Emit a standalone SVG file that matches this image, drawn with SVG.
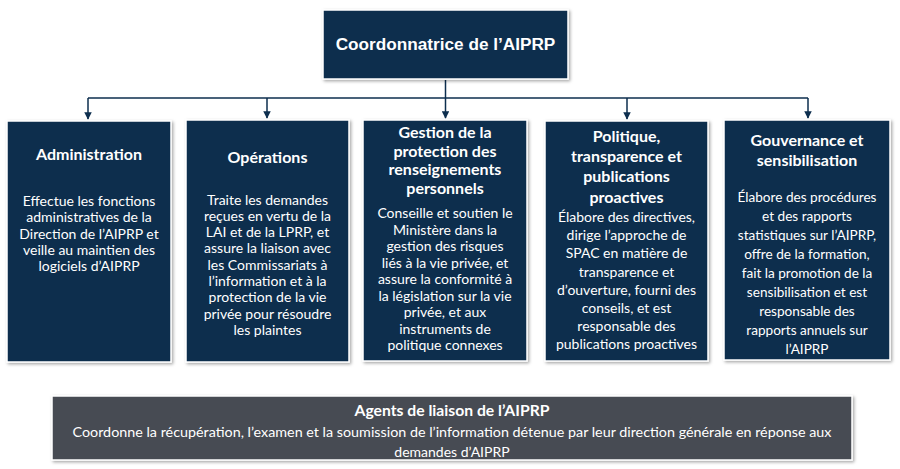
<svg xmlns="http://www.w3.org/2000/svg" width="900" height="469" viewBox="0 0 900 469">
<style>
.box{fill:#0d2e4e;stroke:#ffffff;stroke-width:1.5;filter:url(#sh)}
.gbox{fill:#474b53;stroke:#ffffff;stroke-width:1.5;filter:url(#sh)}
.t{font-family:Lato,"Open Sans",sans-serif;font-weight:bold;fill:#ffffff;text-anchor:middle;font-size:16px}
.b{font-family:Lato,"Open Sans",sans-serif;fill:#ffffff;text-anchor:middle;font-size:14px}
.b5{font-family:Lato,"Open Sans",sans-serif;fill:#ffffff;text-anchor:middle;font-size:13.6px}
.top{font-family:"Liberation Sans",Arial,sans-serif;font-weight:bold;fill:#ffffff;text-anchor:middle;font-size:17.2px}
.c{fill:none;stroke:#0d2e4e;stroke-width:1.5}
</style>
<defs>
<filter id="sh" x="-10%" y="-10%" width="120%" height="120%">
<feDropShadow dx="1.5" dy="1.5" stdDeviation="1.5" flood-color="#000" flood-opacity="0.35"/>
</filter>
<marker id="ar" viewBox="0 0 10 10" refX="9" refY="5" markerWidth="5" markerHeight="5" orient="auto">
<path d="M0,0 L10,5 L0,10 z" fill="#0d2e4e"/>
</marker>
</defs>
<rect width="900" height="469" fill="#ffffff"/>
<g id="connectors">
<path class="c" d="M445.5,80 V98"/>
<path class="c" d="M88,98 H808"/>
<path class="c" d="M88,98 V119" marker-end="url(#ar)"/>
<path class="c" d="M267,98 V118" marker-end="url(#ar)"/>
<path class="c" d="M445.5,98 V118" marker-end="url(#ar)"/>
<path class="c" d="M627,98 V119" marker-end="url(#ar)"/>
<path class="c" d="M808,98 V118" marker-end="url(#ar)"/>
</g>
<g id="coordonnatrice">
<rect class="box" x="323" y="10" width="245" height="69"/>
<text class="top" x="445.5" y="50">Coordonnatrice de l’AIPRP</text>
</g>
<g id="administration">
<rect class="box" x="7" y="121" width="164" height="241"/>
<text class="t" x="89" y="160">Administration</text>
<text class="b" x="89" y="206">Effectue les fonctions</text>
<text class="b" x="89" y="222">administratives de la</text>
<text class="b" x="89" y="238.5">Direction de l’AIPRP et</text>
<text class="b" x="89" y="254.5">veille au maintien des</text>
<text class="b" x="89" y="270.5">logiciels d’AIPRP</text>
</g>
<g id="operations">
<rect class="box" x="186" y="120" width="163" height="242"/>
<text class="t" x="267.5" y="163">Opérations</text>
<text class="b" x="267.5" y="204.5">Traite les demandes</text>
<text class="b" x="267.5" y="220.8">reçues en vertu de la</text>
<text class="b" x="267.5" y="237.1">LAI et de la LPRP, et</text>
<text class="b" x="267.5" y="253.4">assure la liaison avec</text>
<text class="b" x="267.5" y="269.7">les Commissariats à</text>
<text class="b" x="267.5" y="286">l’information et à la</text>
<text class="b" x="267.5" y="302.3">protection de la vie</text>
<text class="b" x="267.5" y="318.6">privée pour résoudre</text>
<text class="b" x="267.5" y="334.9">les plaintes</text>
</g>
<g id="gestion">
<rect class="box" x="363" y="120" width="164" height="241"/>
<text class="t" x="445" y="138">Gestion de la</text>
<text class="t" x="445" y="156.5">protection des</text>
<text class="t" x="445" y="175">renseignements</text>
<text class="t" x="445" y="193.5">personnels</text>
<text class="b" x="445" y="218">Conseille et soutien le</text>
<text class="b" x="445" y="234.5">Ministère dans la</text>
<text class="b" x="445" y="251">gestion des risques</text>
<text class="b" x="445" y="267.5">liés à la vie privée, et</text>
<text class="b" x="445" y="284">assure la conformité à</text>
<text class="b" x="445" y="300.5">la législation sur la vie</text>
<text class="b" x="445" y="317">privée, et aux</text>
<text class="b" x="445" y="333.5">instruments de</text>
<text class="b" x="445" y="350">politique connexes</text>
</g>
<g id="politique">
<rect class="box" x="545" y="121" width="163" height="240"/>
<text class="t" x="626.5" y="141.5">Politique,</text>
<text class="t" x="626.5" y="161.8">transparence et</text>
<text class="t" x="626.5" y="182">publications</text>
<text class="t" x="626.5" y="202.5">proactives</text>
<text class="b" x="626.5" y="222">Élabore des directives,</text>
<text class="b" x="626.5" y="240.2">dirige l’approche de</text>
<text class="b" x="626.5" y="258.4">SPAC en matière de</text>
<text class="b" x="626.5" y="276.6">transparence et</text>
<text class="b" x="626.5" y="294.8">d’ouverture, fourni des</text>
<text class="b" x="626.5" y="313">conseils, et est</text>
<text class="b" x="626.5" y="331.2">responsable des</text>
<text class="b" x="626.5" y="349.4">publications proactives</text>
</g>
<g id="gouvernance">
<rect class="box" x="724" y="120" width="166" height="240"/>
<text class="t" x="807" y="145.5">Gouvernance et</text>
<text class="t" x="807" y="165.5">sensibilisation</text>
<text class="b5" x="807" y="201.5">Élabore des procédures</text>
<text class="b5" x="807" y="220.5">et des rapports</text>
<text class="b5" x="807" y="239.5">statistiques sur l’AIPRP,</text>
<text class="b5" x="807" y="258.5">offre de la formation,</text>
<text class="b5" x="807" y="277.5">fait la promotion de la</text>
<text class="b5" x="807" y="296.5">sensibilisation et est</text>
<text class="b5" x="807" y="315.5">responsable des</text>
<text class="b5" x="807" y="334.5">rapports annuels sur</text>
<text class="b5" x="807" y="353.5">l’AIPRP</text>
</g>
<g id="agents">
<rect class="gbox" x="52" y="396" width="800" height="64"/>
<text class="t" x="452" y="416" font-size="15" textLength="195" lengthAdjust="spacingAndGlyphs">Agents de liaison de l’AIPRP</text>
<text class="b" x="452" y="437" font-size="13.5" textLength="759" lengthAdjust="spacingAndGlyphs">Coordonne la récupération, l’examen et la soumission de l’information détenue par leur direction générale en réponse aux</text>
<text class="b" x="452" y="457" font-size="13.5">demandes d’AIPRP</text>
</g>
</svg>
